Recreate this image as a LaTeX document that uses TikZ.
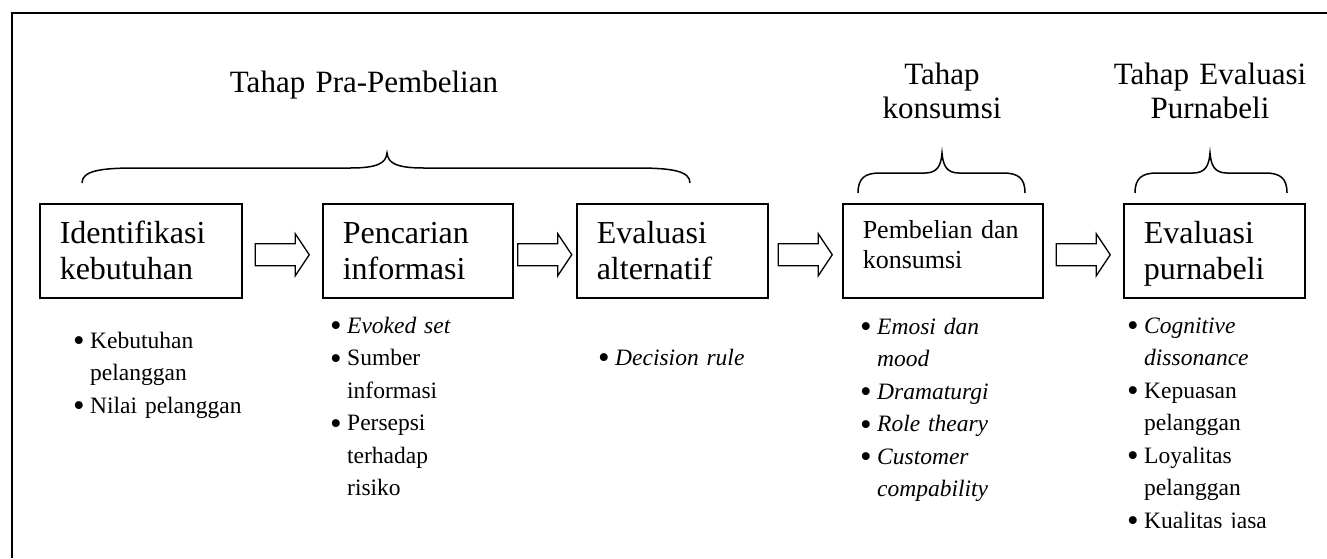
\documentclass[tikz,border=0pt]{standalone}
\usepackage{fontspec}
\setmainfont{Liberation Serif}
\usetikzlibrary{positioning}

\newcommand{\titik}{\makebox[17pt][l]{\raisebox{-3.5pt}{\fontsize{33}{0}\selectfont\textbullet}}}
\newcommand{\butir}[1]{\hangindent=17pt\hangafter=1\titik#1\par}

\begin{document}
\begin{tikzpicture}
    [x=1pt, y=-1pt,
     kotak/.style={draw, line width=1.5pt, anchor=north west, inner xsep=20pt, inner ysep=0pt,
                   align=left, text height=40pt, text depth=54pt, font=\fontsize{32}{36}\selectfont},
     panah/.style={draw, line width=1.3pt},
     judul/.style={anchor=base, align=center, text width=300pt, inner sep=0pt,
                   font=\fontsize{31}{34}\selectfont},
     daftar/.style={anchor=base west, align=left, text width=200pt, inner sep=0pt,
                    font=\fontsize{23.5}{32.5}\selectfont},
     kurung/.style={line width=1.5pt},
     pics/panahblok/.style={code={
       \draw[panah] (-27,-11) -- (13,-11) -- (13,-21) -- (27,0) -- (13,21) -- (13,11) -- (-27,11) -- cycle;}}]

    \useasboundingbox (0,0) rectangle (1327,558);
    \draw[line width=2pt] (12,558) -- (12,13) -- (1327,13);

    % judul tahap
    \node[judul] (prapembelian) at (364,92) {Tahap Pra-Pembelian};
    \node[judul] (konsumsi) at (942,84) {Tahap\\konsumsi};
    \node[judul] (purna) at (1210,84) {Tahap Evaluasi\\Purnabeli};

    % kurung kurawal
    \draw[kurung] (82,183) .. controls (82,171) and (100,168) .. (135,168) -- (350,168)
        .. controls (378,168) and (386,163) .. (387,153) .. controls (388,163) and (396,168) .. (424,168)
        -- (637,168) .. controls (672,168) and (690,171) .. (690,183);
    \draw[kurung] (858,193) .. controls (858,178) and (865,173) .. (880,173) -- (925,173)
        .. controls (937,173) and (941,166) .. (942,153) .. controls (943,166) and (947,173) .. (959,173)
        -- (1003,173) .. controls (1018,173) and (1025,178) .. (1025,193);
    \draw[kurung] (1135,193) .. controls (1135,178) and (1142,173) .. (1157,173) -- (1193,173)
        .. controls (1205,173) and (1209,166) .. (1210,153) .. controls (1211,166) and (1215,173) .. (1227,173)
        -- (1265,173) .. controls (1280,173) and (1287,178) .. (1287,193);

    % kotak proses
    \node[kotak, text width=162pt] (identifikasi) at (39,203) {Identifikasi\\kebutuhan};
    \node[kotak, text width=150pt] (pencarian) at (322,203) {Pencarian\\informasi};
    \node[kotak, text width=151pt] (evaluasi) at (576,203) {Evaluasi\\alternatif};
    \node[kotak, text width=160pt, text height=35pt, text depth=59pt,
          font=\fontsize{26}{30}\selectfont] (pembelian) at (842,203) {Pembelian dan\\konsumsi};
    \node[kotak, text width=141pt] (purnabeli) at (1123,203) {Evaluasi\\purnabeli};

    % panah
    \path ([yshift=-4pt]identifikasi.east) -- coordinate[pos=.5] (panah1) ([yshift=-4pt]pencarian.west);
    \path ([yshift=-4pt]pencarian.east) -- coordinate[pos=.5] (panah2) ([yshift=-4pt]evaluasi.west);
    \path ([yshift=-4pt]evaluasi.east) -- coordinate[pos=.5] (panah3) ([yshift=-4pt]pembelian.west);
    \path ([yshift=-4pt]pembelian.east) -- coordinate[pos=.5] (panah4) ([yshift=-4pt]purnabeli.west);
    \foreach \p in {panah1, panah2, panah3, panah4}
      \pic at (\p) {panahblok};

    % daftar butir
    \node[daftar] (butir1) at (73,348) {\butir{Kebutuhan\newline pelanggan}\butir{Nilai pelanggan}};
    \node[daftar] (butir2) at (330,333) {\butir{\textit{Evoked set}}\butir{Sumber\newline informasi}\butir{Persepsi\newline terhadap\newline risiko}};
    \node[daftar] (butir3) at (598,365) {\butir{\textit{Decision rule}}};
    \node[daftar] (butir4) at (860,334) {\butir{\textit{Emosi dan\newline mood}}\butir{\textit{Dramaturgi}}\butir{\textit{Role theary}}\butir{\textit{Customer\newline compability}}};
    \begin{scope}
      \clip (1100,300) rectangle (1327,527);
      \node[daftar] (butir5) at (1127,333) {\butir{\textit{Cognitive\newline dissonance}}\butir{Kepuasan\newline pelanggan}\butir{Loyalitas\newline pelanggan}\butir{Kualitas jasa}};
    \end{scope}
\end{tikzpicture}
\end{document}
